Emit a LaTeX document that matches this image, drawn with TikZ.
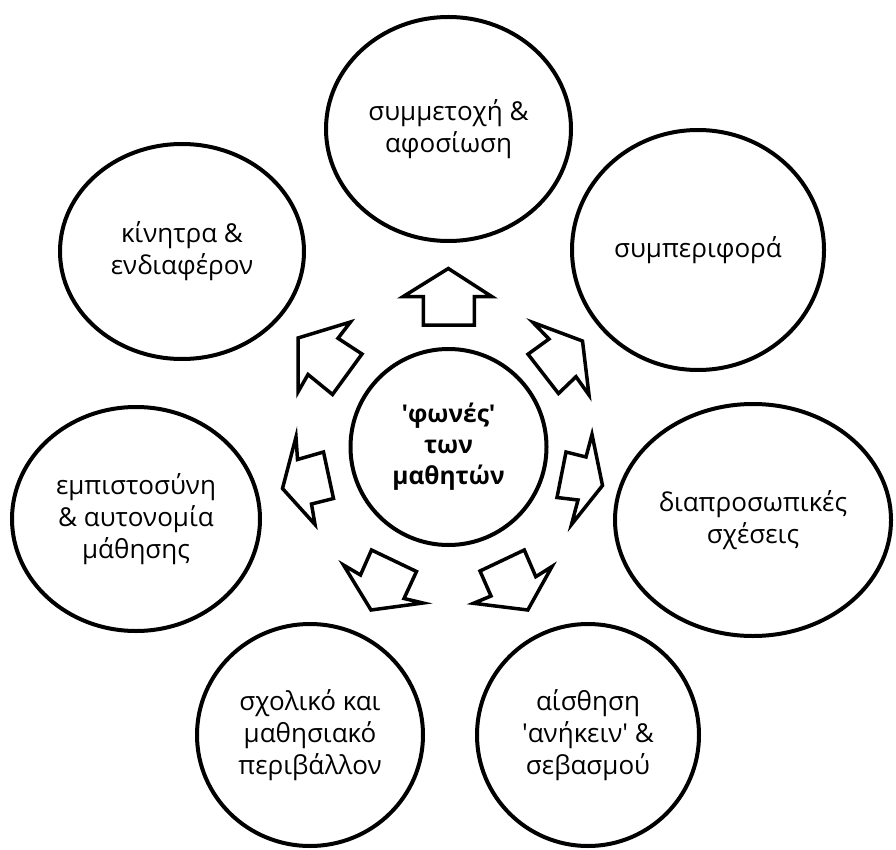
\documentclass[tikz,border=0pt]{standalone}
\usepackage{fontspec}
\setmainfont{Open Sans}
\usetikzlibrary{shapes.geometric}
\newcommand{\sq}{\textquotesingle}
\begin{document}
\begin{tikzpicture}[x=1pt,y=-1pt,
  bubble/.style={ellipse, draw=black, line width=4pt, fill=white, inner sep=0pt,
    align=center, font=\fontsize{26}{32}\selectfont},
  hub/.style={circle, draw=black, line width=4pt, fill=white, inner sep=0pt,
    minimum size=196pt, align=center, font=\fontsize{24.5}{31}\selectfont\bfseries},
  blockarrow/.style={draw=black, line width=3.5pt, fill=white, line join=miter}]
\useasboundingbox (0,0) rectangle (896,850);

% centre
\node[hub] (c) at (448.5,447) {\sq φωνές\sq\\των\\μαθητών};

% outer bubbles
\node[bubble, minimum width=245pt, minimum height=224pt] (top) at (448.5,129) {συμμετοχή \&\\αφοσίωση};
\node[bubble, minimum width=244pt, minimum height=215pt] (ul) at (182,251.5) {κίνητρα \&\\ενδιαφέρον};
\node[bubble, minimum width=252pt, minimum height=240pt] (ur) at (698,250) {συμπεριφορά};
\node[bubble, minimum width=248pt, minimum height=224pt] (l) at (136,519) {εμπιστοσύνη\\\& αυτονομία\\μάθησης};
\node[bubble, minimum width=276pt, minimum height=232pt] (r) at (753,520) {διαπροσωπικές\\σχέσεις};
\node[bubble, minimum width=226pt, minimum height=222pt] (bl) at (310,735) {σχολικό και\\μαθησιακό\\περιβάλλον};
\node[bubble, minimum width=222pt, minimum height=222pt] (br) at (588,735) {αίσθηση\\\sq ανήκειν\sq\ \&\\σεβασμού};

% block arrows
\draw[blockarrow] (448.3,268.5) -- (492,296.7) -- (474.3,296.7) -- (474.3,325) -- (423.3,325) -- (423.3,296.7) -- (403,296.7) -- cycle;
\draw[blockarrow] (298,338) -- (350.5,322) -- (338,338.3) -- (362,354) -- (332.5,394.5) -- (308,374.5) -- (298,392) -- cycle;
\draw[blockarrow] (582.5,341) -- (589,395) -- (576,376.7) -- (558.5,393.5) -- (528,354.2) -- (549,339) -- (533,322.5) -- cycle;
\draw[blockarrow] (602.5,485.5) -- (571.5,524.5) -- (578,500) -- (557,497.5) -- (566,452) -- (586,457) -- (592,434.5) -- cycle;
\draw[blockarrow] (282.5,488.5) -- (296,437) -- (297.5,459.5) -- (323.5,452) -- (333.5,498.5) -- (311.5,504) -- (315,524.5) -- cycle;
\draw[blockarrow] (371,610) -- (343.5,565) -- (360.5,575) -- (371.5,550) -- (416.5,571.5) -- (404,598.5) -- (423,603) -- cycle;
\draw[blockarrow] (527.8,610) -- (552,566.5) -- (535.8,576.7) -- (524.3,550) -- (480,571) -- (491,596) -- (473.5,603.3) -- cycle;
\end{tikzpicture}
\end{document}
